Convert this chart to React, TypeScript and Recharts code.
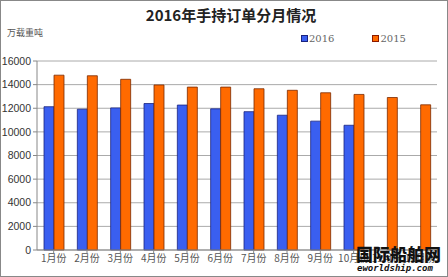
import { BarChart, Bar, XAxis, YAxis, CartesianGrid, Legend } from 'recharts';

const MONTHS = ['1月份', '2月份', '3月份', '4月份', '5月份', '6月份', '7月份', '8月份', '9月份', '10月份', '11月份', '12月份'];
const Y2016 = [12130, 11920, 12030, 12400, 12270, 11950, 11710, 11410, 10910, 10560, null, null];
const Y2015 = [14800, 14750, 14450, 13970, 13790, 13790, 13650, 13520, 13310, 13170, 12910, 12290];
const Y_TICKS = [0, 2000, 4000, 6000, 8000, 10000, 12000, 14000, 16000];

const BLUE = '#3a5ff0';
const ORANGE = '#ff6a00';

const data = MONTHS.map((m, i) => ({ month: m, y2016: Y2016[i], y2015: Y2015[i] }));

function LegendBox() {
  const items = [
    { label: '2016', color: BLUE, stroke: '#1a237e' },
    { label: '2015', color: ORANGE, stroke: '#8b1a00' },
  ];
  return (
    <div style={{ display: 'flex', gap: 38, fontFamily: '"DejaVu Serif", serif', fontSize: 10, color: '#666' }}>
      {items.map((it) => (
        <span key={it.label} style={{ display: 'flex', alignItems: 'center' }}>
          <span style={{ width: 5, height: 5, background: it.color, border: `1px solid ${it.stroke}`, marginRight: 1 }} />
          {it.label}
        </span>
      ))}
    </div>
  );
}

export default function App() {
  return (
    <div style={{ position: 'absolute', left: 0, top: 0, width: 448, height: 277, background: '#fff', boxSizing: 'border-box', border: '1px solid #888' }}>
      <div style={{ position: 'absolute', left: 0, top: 3, width: 460, textAlign: 'center', fontFamily: '"Noto Sans CJK SC", sans-serif', fontWeight: 700, fontSize: 15, color: '#222' }}>
        2016年手持订单分月情况
      </div>
      <div style={{ position: 'absolute', left: 6, top: 25, fontFamily: '"Noto Sans CJK SC", sans-serif', fontSize: 9, color: '#555' }}>
        万载重吨
      </div>
      <div style={{ position: 'absolute', left: -1, top: -1 }}>
        <BarChart
          width={448}
          height={277}
          data={data}
          margin={{ top: 50, right: 11, left: 0, bottom: 0 }}
          barCategoryGap="21%"
          barGap={0}
        >
          <CartesianGrid vertical={false} stroke="#aaa" />
          <XAxis
            dataKey="month"
            height={27}
            interval={0}
            stroke="#888"
            tickSize={3}
            tick={{ fontSize: 10, fill: '#555', fontFamily: '"Noto Sans CJK SC", sans-serif' }}
          />
          <YAxis
            width={37}
            domain={[0, 16000]}
            ticks={Y_TICKS}
            stroke="#888"
            tickSize={4}
            tick={{ fontSize: 10.5, fill: '#333', fontFamily: '"Liberation Sans", Arial, sans-serif' }}
          />
          <Legend verticalAlign="top" wrapperStyle={{ position: 'absolute', left: 301, top: 33, width: 'auto' }} content={() => <LegendBox />} />
          <Bar dataKey="y2016" fill={BLUE} stroke="#1a237e" strokeWidth={0.8} isAnimationActive={false} />
          <Bar dataKey="y2015" fill={ORANGE} stroke="#7a2a00" strokeWidth={0.8} isAnimationActive={false} />
        </BarChart>
      </div>
      <div style={{ position: 'absolute', left: 355, top: 244, fontFamily: '"Noto Sans CJK SC", sans-serif', fontWeight: 900, fontSize: 17, color: '#111', lineHeight: '18px', letterSpacing: 0 }}>
        国际船舶网
      </div>
      <div style={{ position: 'absolute', left: 356, top: 262, fontFamily: '"DejaVu Sans Mono", monospace', fontWeight: 700, fontStyle: 'italic', fontSize: 9, color: '#111', lineHeight: '10px' }}>
        eworldship.com
      </div>
    </div>
  );
}
